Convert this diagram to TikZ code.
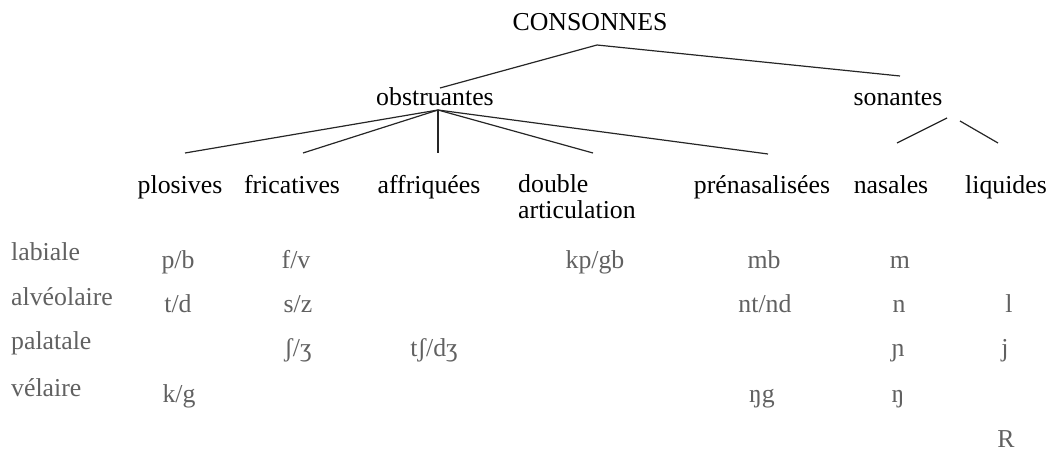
\documentclass[tikz,border=0pt]{standalone}
\usepackage{fontspec}
\setmainfont{Liberation Serif}
\begin{document}
\begin{tikzpicture}[x=1pt,y=-1pt,
  lbl/.style={inner sep=0pt,anchor=base,font=\fontsize{25.8}{26}\selectfont},
  cell/.style={lbl,text=black!62},
  rowlbl/.style={cell,anchor=base west},
  branch/.style={line width=1.2pt,black!85}]
\useasboundingbox (0,0) rectangle (1053,452);

% tree labels
\node[lbl] (cons) at (590,31) {CONSONNES};
\node[lbl] (obs) at (435,106) {obstruantes};
\node[lbl] (son) at (898,106) {sonantes};
\node[lbl] (plo) at (180,193) {plosives};
\node[lbl] (fri) at (292,193) {fricatives};
\node[lbl] (aff) at (429,193) {affriquées};
\node[lbl,anchor=base west,align=left] (dbl) at (518,218) {double\\articulation};
\node[lbl] (pre) at (762,193) {prénasalisées};
\node[lbl] (nas) at (891,193) {nasales};
\node[lbl] (liq) at (1006,193) {liquides};

% branch points
\coordinate (cons-b) at (597,45);
\coordinate (obs-t) at (440,88);
\coordinate (son-t) at (900,76);
\coordinate (obs-b) at (438,110);
\coordinate (plo-t) at (185,153);
\coordinate (fri-t) at (303,153);
\coordinate (aff-t) at (438,153);
\coordinate (dbl-t) at (593,153);
\coordinate (pre-t) at (768,154);
\coordinate (son-bl) at (947,118);
\coordinate (son-br) at (960,121);
\coordinate (nas-t) at (897,143);
\coordinate (liq-t) at (998,143);

\draw[branch] (obs-t) -- (cons-b) -- (son-t);
\draw[branch] (obs-b) -- (plo-t);
\draw[branch] (obs-b) -- (fri-t);
\draw[branch] (obs-b) -- (aff-t);
\draw[branch] (obs-b) -- (dbl-t);
\draw[branch] (obs-b) -- (pre-t);
\draw[branch] (son-bl) -- (nas-t);
\draw[branch] (son-br) -- (liq-t);

% places of articulation
\node[rowlbl] (lab) at (11,260) {labiale};
\node[rowlbl] (alv) at (11,305) {alvéolaire};
\node[rowlbl] (pal) at (11,349) {palatale};
\node[rowlbl] (vel) at (11,396) {vélaire};

% labiale
\node[cell] (pb) at (178,268) {p/b};
\node[cell] (fv) at (296,268) {f/v};
\node[cell] (kpgb) at (595,268) {kp/gb};
\node[cell] (mb) at (764,268) {mb};
\node[cell] (m) at (900,268) {m};
% alveolaire
\node[cell] (td) at (178,312) {t/d};
\node[cell] (sz) at (298,312) {s/z};
\node[cell] (ntnd) at (765,312) {nt/nd};
\node[cell] (n) at (899,312) {n};
\node[cell] (l) at (1009,312) {l};
% palatale
\node[cell] (shzh) at (298,356) {ʃ/ʒ};
\node[cell] (tshdzh) at (434,356) {tʃ/dʒ};
\node[cell] (ny) at (898,356) {ɲ};
\node[cell] (j) at (1005,356) {j};
% velaire
\node[cell] (kg) at (179,402) {k/g};
\node[cell] (ngg) at (762,402) {ŋg};
\node[cell] (ng) at (898,402) {ŋ};
% uvulaire
\node[cell] (R) at (1006,447) {R};
\end{tikzpicture}
\end{document}
